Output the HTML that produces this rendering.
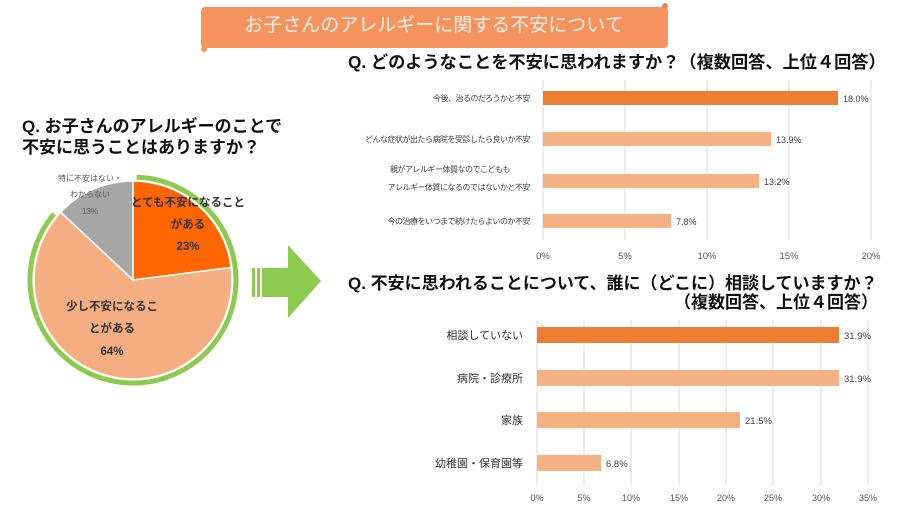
<!DOCTYPE html>
<html><head><meta charset="utf-8"><style>
body{margin:0;background:#fff}
svg{display:block}
text{font-family:"Liberation Sans","Noto Sans CJK JP",sans-serif}
</style></head><body>
<svg width="900" height="506" viewBox="0 0 900 506" xmlns="http://www.w3.org/2000/svg">
<rect width="900" height="506" fill="#fff"/>
<!-- banner -->
<rect x="201" y="7" width="467" height="41" rx="4" fill="#F5935E"/>
<circle cx="204" cy="49" r="3" fill="#F5935E"/>
<circle cx="665" cy="6" r="3" fill="#E0875A"/>
<text x="434" y="31" font-size="19" fill="#fdf1ea" text-anchor="middle">お子さんのアレルギーに関する不安について</text>

<!-- left heading -->
<text x="22" y="132" font-size="17" font-weight="bold" fill="#111">Q. お子さんのアレルギーのことで</text>
<text x="22" y="153" font-size="17" font-weight="bold" fill="#111">不安に思うことはありますか？</text>

<!-- pie -->
<g transform="translate(133,280)">
<path d="M0,0 L0,-99 A99,99 0 0 1 98.2,-12.5 Z" fill="#FF6600" stroke="#fff" stroke-width="1.5"/>
<path d="M0,0 L98.2,-12.5 A99,99 0 1 1 -72.2,-67.8 Z" fill="#F4AE82" stroke="#fff" stroke-width="1.5"/>
<path d="M0,0 L-72.2,-67.8 A99,99 0 0 1 0,-99 Z" fill="#A6A6A6" stroke="#fff" stroke-width="1.5"/>
<path d="M3.6,-102.9 A103,103 0 1 1 -78.9,-66.2" fill="none" stroke="#8CCB50" stroke-width="5"/>
</g>
<text x="90" y="181" font-size="8" fill="#555" text-anchor="middle">特に不安はない・</text>
<text x="90" y="197" font-size="8" fill="#555" text-anchor="middle">わからない</text>
<text x="90" y="214" font-size="8" fill="#555" text-anchor="middle">13%</text>
<text x="188" y="206" font-size="11.5" font-weight="bold" fill="#333" text-anchor="middle">とても不安になること</text>
<text x="188" y="228" font-size="11.5" font-weight="bold" fill="#333" text-anchor="middle">がある</text>
<text x="188" y="250" font-size="11.5" font-weight="bold" fill="#333" text-anchor="middle">23%</text>
<text x="112" y="310" font-size="11.5" font-weight="bold" fill="#333" text-anchor="middle">少し不安になるこ</text>
<text x="112" y="332" font-size="11.5" font-weight="bold" fill="#333" text-anchor="middle">とがある</text>
<text x="112" y="355" font-size="11.5" font-weight="bold" fill="#333" text-anchor="middle">64%</text>

<!-- arrow -->
<rect x="252" y="268" width="3" height="29" fill="#8CCB50"/>
<rect x="257" y="268" width="3" height="29" fill="#8CCB50"/>
<polygon points="262,268 288,268 288,245 321,281 288,318 288,297 262,297" fill="#8CCB50"/>

<!-- chart 1 -->
<text x="348" y="68" font-size="17.2" font-weight="bold" fill="#111">Q. どのようなことを不安に思われますか？（複数回答、上位４回答）</text>
<g stroke="#d9d9d9" stroke-width="1">
<line x1="543" y1="80" x2="543" y2="240"/><line x1="625" y1="80" x2="625" y2="240"/><line x1="707" y1="80" x2="707" y2="240"/><line x1="789" y1="80" x2="789" y2="240"/><line x1="871" y1="80" x2="871" y2="240"/>
</g>
<rect x="543" y="91" width="295" height="14" fill="#ED7D31"/>
<rect x="543" y="132" width="228" height="14" fill="#F4B183"/>
<rect x="543" y="174" width="216" height="14" fill="#F4B183"/>
<rect x="543" y="214" width="128" height="14" fill="#F4B183"/>
<g font-size="9" fill="#404040">
<text x="843" y="102">18.0%</text><text x="776" y="143">13.9%</text><text x="764" y="185">13.2%</text><text x="676" y="225">7.8%</text>
</g>
<g font-size="8" fill="#404040" text-anchor="end" letter-spacing="-0.5">
<text x="530" y="101">今後、治るのだろうかと不安</text>
<text x="530" y="142">どんな症状が出たら病院を受診したら良いか不安</text>
<text x="510" y="172">親がアレルギー体質なのでこどもも</text>
<text x="530" y="190">アレルギー体質になるのではないかと不安</text>
<text x="530" y="224">今の治療をいつまで続けたらよいのか不安</text>
</g>
<g font-size="9.5" fill="#555" text-anchor="middle">
<text x="543" y="259">0%</text><text x="625" y="259">5%</text><text x="707" y="259">10%</text><text x="789" y="259">15%</text><text x="871" y="259">20%</text>
</g>

<!-- chart 2 -->
<text x="348" y="289" font-size="17" font-weight="bold" fill="#111">Q. 不安に思われることについて、誰に（どこに）相談していますか？</text>
<text x="878" y="308" font-size="17" font-weight="bold" fill="#111" text-anchor="end">（複数回答、上位４回答）</text>
<g stroke="#d9d9d9" stroke-width="1">
<line x1="537" y1="320" x2="537" y2="485"/><line x1="584" y1="320" x2="584" y2="485"/><line x1="631" y1="320" x2="631" y2="485"/><line x1="679" y1="320" x2="679" y2="485"/><line x1="726" y1="320" x2="726" y2="485"/><line x1="773" y1="320" x2="773" y2="485"/><line x1="821" y1="320" x2="821" y2="485"/><line x1="868" y1="320" x2="868" y2="485"/>
</g>
<rect x="537" y="327" width="302" height="16" fill="#ED7D31"/>
<rect x="537" y="370" width="302" height="16" fill="#F4B183"/>
<rect x="537" y="412" width="203" height="16" fill="#F4B183"/>
<rect x="537" y="455" width="64" height="16" fill="#F4B183"/>
<g font-size="9.5" fill="#404040">
<text x="844" y="339">31.9%</text><text x="844" y="382">31.9%</text><text x="745" y="424">21.5%</text><text x="606" y="467">6.8%</text>
</g>
<g font-size="11" fill="#333" text-anchor="end">
<text x="523" y="339">相談していない</text>
<text x="523" y="382">病院・診療所</text>
<text x="523" y="424">家族</text>
<text x="523" y="467">幼稚園・保育園等</text>
</g>
<g font-size="9" fill="#555" text-anchor="middle">
<text x="537" y="501">0%</text><text x="584" y="501">5%</text><text x="631" y="501">10%</text><text x="679" y="501">15%</text><text x="726" y="501">20%</text><text x="773" y="501">25%</text><text x="821" y="501">30%</text><text x="868" y="501">35%</text>
</g>
</svg>
</body></html>
